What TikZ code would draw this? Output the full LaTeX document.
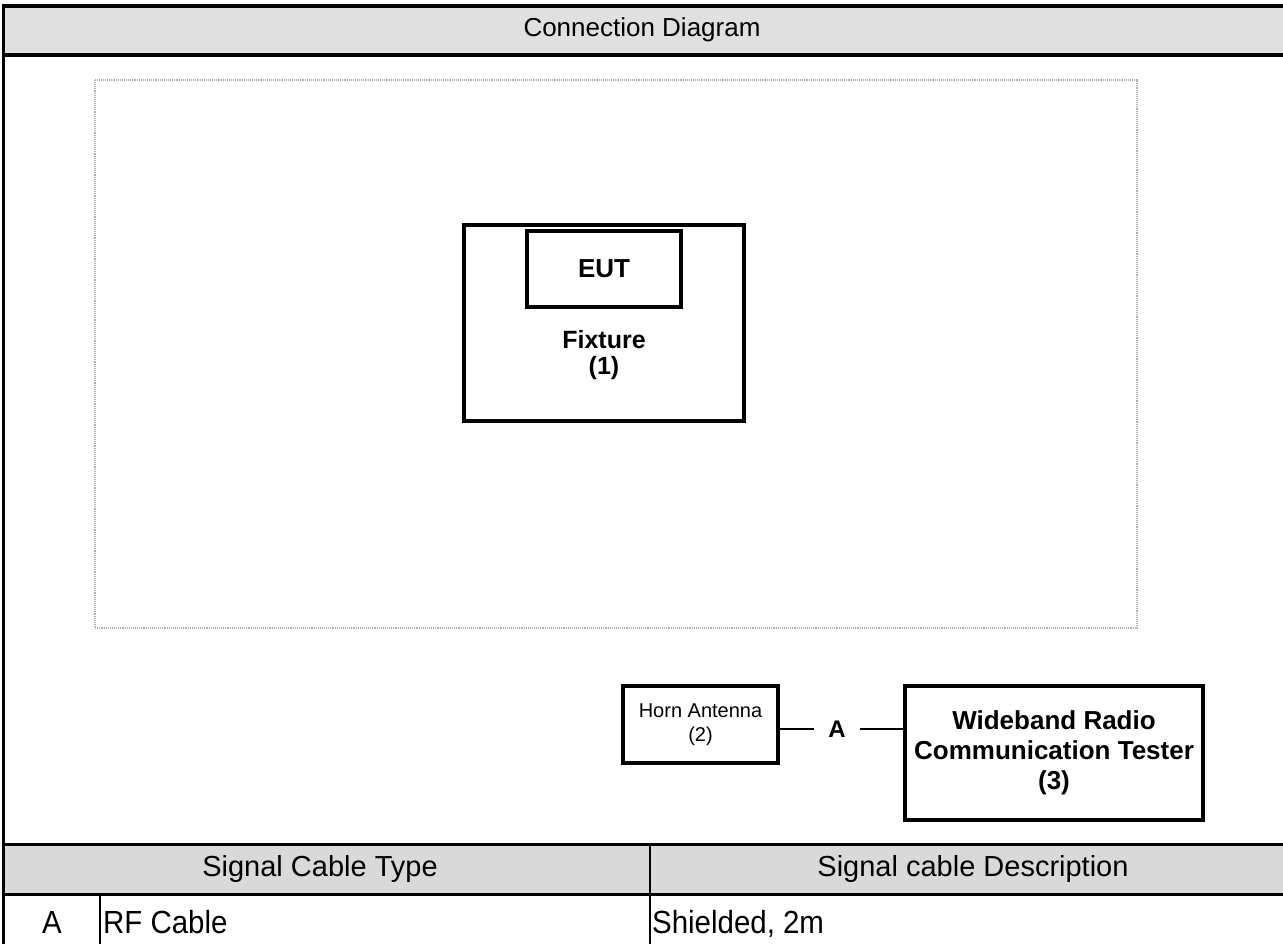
\documentclass[tikz,border=0pt]{standalone}
\usepackage{fontspec}
\setmainfont{Liberation Sans}
\newfontfamily\rowfont{Liberation Sans}[FakeStretch=0.92]
\usepackage{tikz}
\usetikzlibrary{positioning}
\definecolor{headgray}{RGB}{224,224,224}
\definecolor{tabgray}{RGB}{217,217,217}
\definecolor{dotgray}{RGB}{175,175,175}

\begin{document}
\begin{tikzpicture}[x=1pt,y=-1pt,
  every node/.style={inner sep=0pt},
  box/.style={draw, line width=3.2pt, minimum width=#1},
  boxtext/.style={font=\fontsize{25}{26}\selectfont\bfseries, align=center},
  tabtext/.style={font=\fontsize{29}{32}\selectfont},
  rowtext/.style={font=\rowfont\fontsize{32}{34}\selectfont, anchor=base west}]
\useasboundingbox (0,0) rectangle (1283,944);
% frame and grey bands
\fill[headgray] (3.5,6) rectangle (1290,55);
\fill[tabgray] (3.5,844) rectangle (1290,894);
\draw[line width=3.4pt] (3.5,6) -- (1290,6);
\draw[line width=3.4pt] (3.5,55) -- (1290,55);
\draw[line width=3pt] (3.5,844) -- (1290,844);
\draw[line width=3pt] (3.5,894) -- (1290,894);
\draw[line width=3.4pt] (3.5,4.3) -- (3.5,950);
\draw[line width=2.2pt] (650,844) -- (650,950);
\draw[line width=2.2pt] (100,894) -- (100,950);
\node[font=\fontsize{26}{30}\selectfont] (title) at (642,30) {Connection Diagram};
% test area
\draw[dotgray, densely dotted, line width=1.1pt] (95,80) rectangle (1137,628);
\node[box=280pt, minimum height=196pt] (fixture) at (604,323) {};
\node[box=154pt, minimum height=76pt] (eut) at (604,269) {};
\node[boxtext, font=\fontsize{26}{26}\selectfont\bfseries] at (eut) {EUT};
\node[boxtext, below=22pt of eut.south] (fixlabel) {Fixture\\(1)};
% equipment
\node[box=155pt, minimum height=77pt] (horn) at (700.5,724.5) {};
\node[font=\fontsize{20}{24}\selectfont, align=center] at (horn) {Horn Antenna\\(2)};
\node[box=298pt, minimum height=134pt] (tester) at (1054,753) {};
\node[boxtext, font=\fontsize{26}{30}\selectfont\bfseries] at (1054,753) {Wideband Radio\\Communication Tester\\(3)};
\node[font=\fontsize{24}{26}\selectfont\bfseries, minimum width=45pt] (cableA) at (837,729) {A};
\draw[line width=2.2pt] (horn.east |- cableA.west) -- (cableA.west);
\draw[line width=2.2pt] (cableA.east) -- (cableA.east -| tester.west);
% cable table
\node[tabtext] (typehead) at (320,869) {Signal Cable Type};
\node[tabtext] (deschead) at (973,869) {Signal cable Description};
\node[rowtext, anchor=base] (rowid) at (52,933) {A};
\node[rowtext] (rowtype) at (103,933) {RF Cable};
\node[rowtext] (rowdesc) at (652,933) {Shielded, 2m};
\end{tikzpicture}
\end{document}
